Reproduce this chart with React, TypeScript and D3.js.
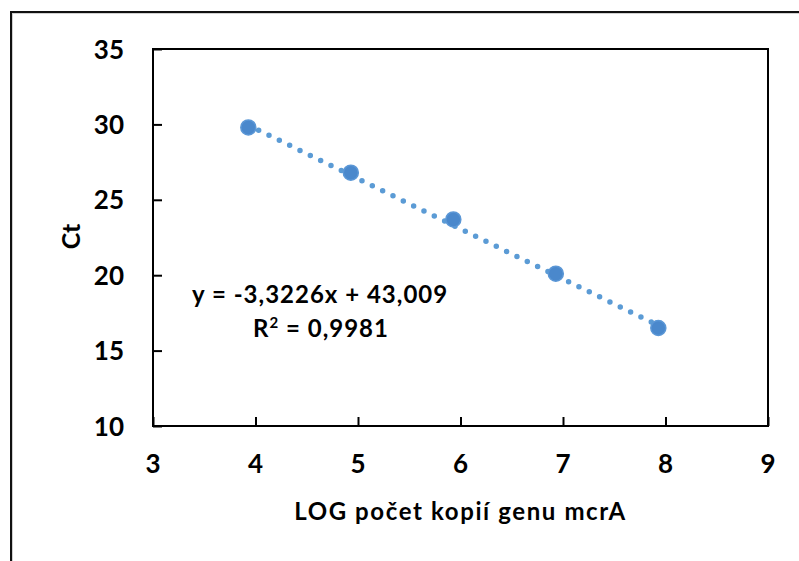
import React, { useEffect, useRef } from 'react';
import * as d3 from 'd3';

// log copy number vs Ct
const logCopies = [3.93, 4.93, 5.93, 6.93, 7.93];
const ctValues = [29.8, 26.8, 23.7, 20.1, 16.5];
const xTicks = [3, 4, 5, 6, 7, 8, 9];
const yTicks = [10, 15, 20, 25, 30, 35];
const slope = -3.3226;
const intercept = 43.009;
const eqLabel = 'y = -3,3226x + 43,009';
const r2Label = '0,9981';

const FONT = 'Lato, "Open Sans", sans-serif';
const BLUE = '#5b9bd5';

function App() {
  const ref = useRef<SVGSVGElement>(null);

  useEffect(() => {
    const svg = d3.select(ref.current);
    svg.selectAll('*').remove();

    let margin = { top: 49, left: 153, right: 31, bottom: 135 },
      width = 799 - margin.left - margin.right,
      height = 561 - margin.top - margin.bottom;

    let x = d3.scaleLinear().domain([3, 9]).range([0, width]);
    let y = d3.scaleLinear().domain([10, 35]).range([height, 0]);

    // outer chart border (cut off at the right and bottom)
    svg.append('rect')
      .attr('x', 12).attr('y', 13)
      .attr('width', 820).attr('height', 600)
      .attr('fill', 'none')
      .attr('stroke', '#d0d0d0')
      .attr('stroke-width', 2);
    svg.append('rect')
      .attr('x', 11).attr('y', 12)
      .attr('width', 820).attr('height', 600)
      .attr('fill', 'none')
      .attr('stroke', '#111')
      .attr('stroke-width', 2);

    const g = svg.append('g')
      .attr('transform', `translate(${margin.left},${margin.top})`);

    g.append('rect')
      .attr('width', width).attr('height', height)
      .attr('fill', 'none')
      .attr('stroke', '#000')
      .attr('stroke-width', 2);

    // ticks pointing inside
    g.append('g')
      .attr('transform', `translate(0,${height})`)
      .call(d3.axisTop(x).tickValues(xTicks).tickSize(9).tickFormat(() => ''))
      .call(a => a.select('.domain').remove())
      .call(a => a.selectAll('line').attr('stroke', '#000').attr('stroke-width', 2));
    g.append('g')
      .call(d3.axisRight(y).tickValues(yTicks).tickSize(9).tickFormat(() => ''))
      .call(a => a.select('.domain').remove())
      .call(a => a.selectAll('line').attr('stroke', '#000').attr('stroke-width', 2));

    g.selectAll('.xlab')
      .data(xTicks)
      .join('text')
      .attr('x', d => x(d))
      .attr('y', height + 47)
      .attr('text-anchor', 'middle')
      .style('font-family', FONT)
      .style('font-weight', 'bold')
      .style('font-size', '26px')
      .text(d => d);

    g.selectAll('.ylab')
      .data(yTicks)
      .join('text')
      .attr('x', -29)
      .attr('y', d => y(d) + 9.5)
      .attr('text-anchor', 'end')
      .style('font-family', FONT)
      .style('font-weight', 'bold')
      .style('font-size', '26px')
      .text(d => d);

    // axis titles
    g.append('text')
      .attr('x', width / 2)
      .attr('y', height + 94)
      .attr('text-anchor', 'middle')
      .style('font-family', FONT)
      .style('font-weight', 'bold')
      .style('font-size', '24px')
      .style('letter-spacing', '1.6px')
      .text('LOG počet kopií genu mcrA');
    g.append('text')
      .attr('transform', `translate(${-73},${height / 2 - 1}) rotate(-90)`)
      .attr('text-anchor', 'middle')
      .style('font-family', FONT)
      .style('font-weight', 'bold')
      .style('font-size', '25px')
      .text('Ct');

    // linear trendline
    const x0 = d3.min(logCopies), x1 = d3.max(logCopies);
    g.append('line')
      .attr('x1', x(x0)).attr('y1', y(slope * x0 + intercept))
      .attr('x2', x(x1)).attr('y2', y(slope * x1 + intercept))
      .attr('stroke', BLUE)
      .attr('stroke-width', 5.5)
      .attr('stroke-linecap', 'round')
      .attr('stroke-dasharray', '0 11.5');

    g.selectAll('circle')
      .data(logCopies)
      .join('circle')
      .attr('cx', d => x(d))
      .attr('cy', (d, i) => y(ctValues[i]))
      .attr('r', 7.5)
      .attr('fill', '#4a88cc')
      .attr('stroke', '#5b97d6')
      .attr('stroke-width', 1.5);

    // equation
    const eq = g.append('text')
      .style('font-family', FONT)
      .style('font-weight', 'bold')
      .style('font-size', '24px')
      .style('letter-spacing', '1px');
    eq.append('tspan').attr('x', 39).attr('y', 254).text(eqLabel);
    const r2 = eq.append('tspan').attr('x', 100).attr('y', 288);
    r2.append('tspan').text('R');
    r2.append('tspan').attr('dy', -9).style('font-size', '15px').text('2');
    r2.append('tspan').attr('dy', 9).text(' = ' + r2Label);
  }, []);

  return (
    <svg ref={ref} width={799} height={561}
      style={{ position: 'absolute', left: 0, top: 0, background: '#fff' }} />
  );
}

export default App;
